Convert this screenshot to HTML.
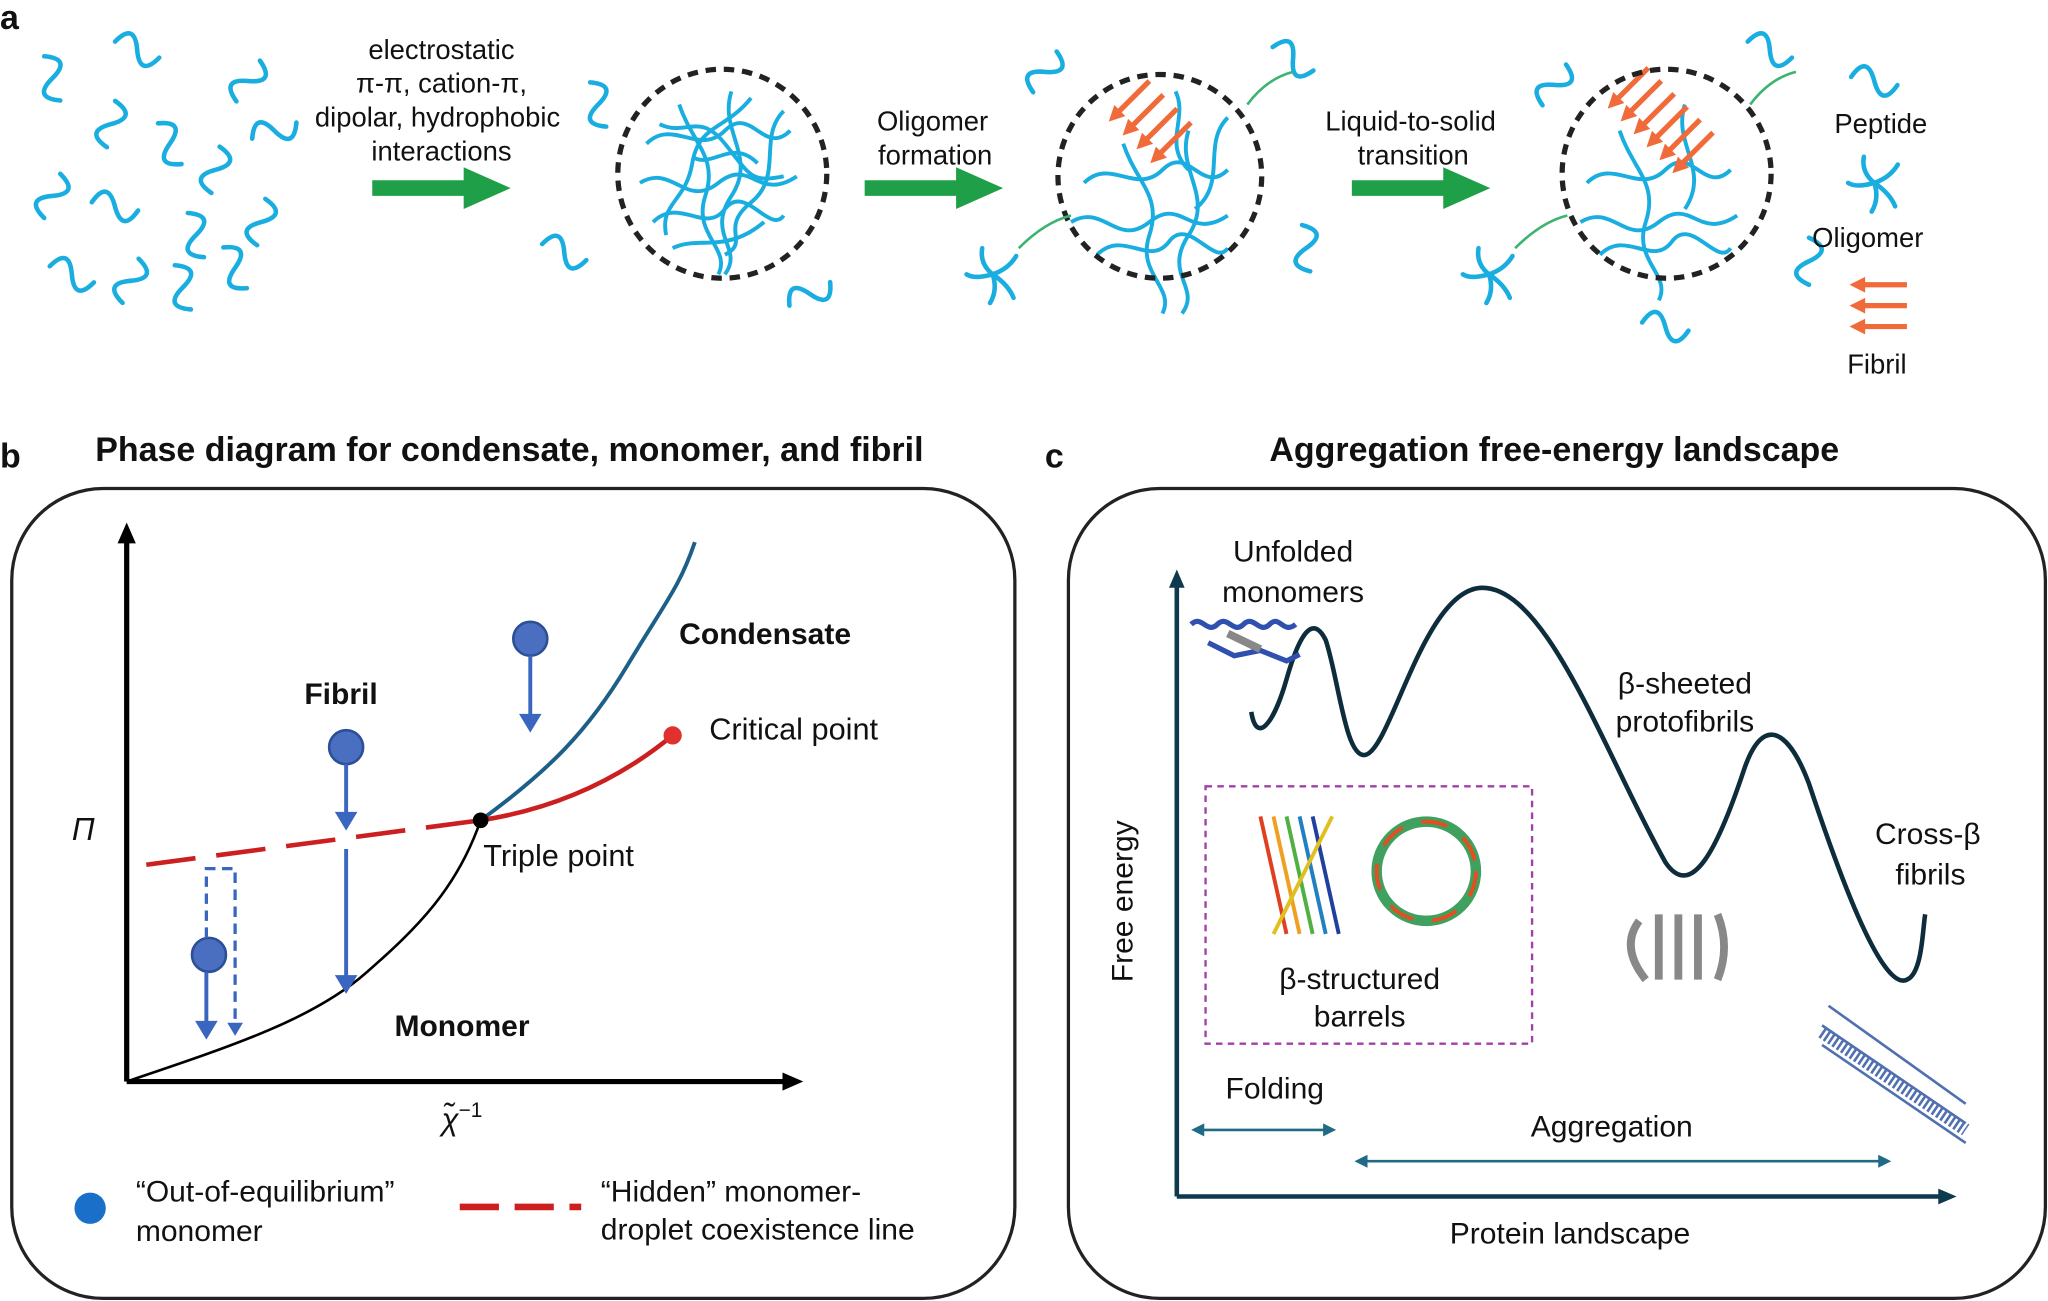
<!DOCTYPE html>
<html><head><meta charset="utf-8"><style>
html,body{margin:0;padding:0;background:#fff}
svg{display:block}
text{font-family:"Liberation Sans",sans-serif;fill:#111}
</style></head><body>
<svg width="2048" height="1301" viewBox="0 0 1568 996" preserveAspectRatio="none" xmlns="http://www.w3.org/2000/svg">
<defs>
<path id="sq" d="M-18 0 c6 -13 12 -13 18 0 s12 13 18 0" fill="none" stroke="#1aaee0" stroke-width="3.5" stroke-linecap="round"/>
<g id="olig" stroke="#1aaee0" stroke-width="3.5" fill="none" stroke-linecap="round">
<path d="M0 0 q-10 -8 -8 -20"/><path d="M0 0 q12 -4 18 -14"/><path d="M0 0 q-14 4 -20 0"/><path d="M0 0 q4 12 -2 22"/><path d="M0 0 q12 8 16 18"/></g>
<g id="oarr"><line x1="0" y1="0" x2="-34" y2="0" stroke="#f06a3a" stroke-width="4"/><path d="M-44 0 l12 -6 v12z" fill="#f06a3a"/></g>
<marker id="ah" markerUnits="userSpaceOnUse" markerWidth="16" markerHeight="16" refX="4" refY="8" orient="auto"><path d="M0 1 L16 8 L0 15z" fill="#000"/></marker>
</defs>
<text x="0" y="22" font-size="26" font-weight="bold">a</text>
<g>
<use href="#sq" transform="translate(40,60) rotate(70)"/><use href="#sq" transform="translate(105,38) rotate(20)"/><use href="#sq" transform="translate(190,62) rotate(-60)"/>
<use href="#sq" transform="translate(85,95) rotate(100)"/><use href="#sq" transform="translate(130,110) rotate(60)"/><use href="#sq" transform="translate(210,100) rotate(-20)"/>
<use href="#sq" transform="translate(165,130) rotate(100)"/><use href="#sq" transform="translate(40,150) rotate(-70)"/><use href="#sq" transform="translate(88,158) rotate(10)"/>
<use href="#sq" transform="translate(200,170) rotate(100)"/><use href="#sq" transform="translate(150,180) rotate(70)"/><use href="#sq" transform="translate(55,210) rotate(20)"/>
<use href="#sq" transform="translate(100,215) rotate(110)"/><use href="#sq" transform="translate(140,220) rotate(70)"/><use href="#sq" transform="translate(180,205) rotate(60)"/>
</g>
<g font-size="21" text-anchor="middle">
<text x="338" y="45">electrostatic</text>
<text x="338" y="71">π-π, cation-π,</text>
<text x="335" y="97">dipolar, hydrophobic</text>
<text x="338" y="123">interactions</text>
<text x="714" y="100">Oligomer</text>
<text x="716" y="126">formation</text>
<text x="1080" y="100">Liquid-to-solid</text>
<text x="1082" y="126">transition</text>
</g>
<path d="M285 138 h70 v-10 l36 16 l-36 16 v-10 h-70z" fill="#1fa048"/>
<path d="M662 138 h70 v-10 l36 16 l-36 16 v-10 h-70z" fill="#1fa048"/>
<path d="M1035 138 h70 v-10 l36 16 l-36 16 v-10 h-70z" fill="#1fa048"/>
<g stroke="#1aaee0" stroke-width="3" fill="none">
<path d="M495 110 c20 -20 40 10 60 -10 s30 20 50 0"/><path d="M490 140 c25 -15 35 20 60 0 s30 15 60 -5"/><path d="M500 170 c20 -20 40 10 55 -10 s35 20 45 5"/><path d="M520 80 c10 30 30 40 20 70 s20 40 10 60"/><path d="M560 70 c-10 30 20 50 0 80 s10 40 -5 60"/><path d="M600 85 c-20 20 0 50 -25 70 s0 30 -20 40"/><path d="M515 190 c20 -10 40 5 70 -20"/><path d="M530 120 c15 10 30 -15 50 5"/><path d="M505 95 c20 10 30 -10 50 15 s20 30 45 25"/><path d="M575 75 c-20 25 -40 20 -45 50 s-25 30 -20 55"/>
</g>
<circle cx="553" cy="133" r="80" fill="none" stroke="#222" stroke-width="4" stroke-dasharray="8,6"/>
<use href="#sq" transform="translate(432,193) rotate(20)"/><use href="#sq" transform="translate(458,80) rotate(70)"/><use href="#sq" transform="translate(620,225) rotate(-30)"/>
<g stroke="#1aaee0" stroke-width="3" fill="none">
<path d="M830 140 c20 -20 40 10 60 -10 s30 20 50 0"/><path d="M820 170 c25 -15 35 20 60 0 s30 15 60 -5"/><path d="M840 195 c20 -20 40 10 55 -10 s35 20 45 5"/><path d="M860 110 c10 30 30 40 20 70 s20 40 10 60"/><path d="M910 100 c-10 30 20 50 0 80 s10 40 -5 60"/><path d="M940 90 c-20 20 0 50 -25 70"/><path d="M900 70 c10 20 -10 40 10 60"/>
</g>
<g transform="translate(880,62) rotate(-45)"><use href="#oarr"/><use href="#oarr" y="15"/><use href="#oarr" y="30"/><use href="#oarr" y="45"/></g>
<circle cx="888" cy="135" r="78" fill="none" stroke="#222" stroke-width="4" stroke-dasharray="8,6"/>
<use href="#sq" transform="translate(800,55) rotate(-60)"/><use href="#sq" transform="translate(1000,190) rotate(80)"/><use href="#sq" transform="translate(990,45) rotate(30)"/>
<use href="#olig" transform="translate(760,210)"/>
<path d="M780 190 q20 -20 40 -25" stroke="#3cb371" stroke-width="2" fill="none"/><path d="M955 80 q15 -20 35 -25" stroke="#3cb371" stroke-width="2" fill="none"/>
<g stroke="#1aaee0" stroke-width="3" fill="none">
<path d="M1215 140 c20 -20 40 10 60 -10 s30 20 50 0"/><path d="M1210 170 c25 -15 35 20 60 0 s30 15 60 -5"/><path d="M1225 195 c20 -20 40 10 55 -10 s35 20 45 5"/><path d="M1240 100 c10 30 30 40 20 70 s20 40 10 60"/><path d="M1290 80 c-10 30 20 50 0 80"/>
</g>
<g transform="translate(1262,52) rotate(-45)"><use href="#oarr"/><use href="#oarr" y="14"/><use href="#oarr" y="28"/><use href="#oarr" y="42"/><use href="#oarr" y="56"/><use href="#oarr" y="70"/></g>
<circle cx="1276" cy="133" r="80" fill="none" stroke="#222" stroke-width="4" stroke-dasharray="8,6"/>
<use href="#sq" transform="translate(1190,65) rotate(-60)"/><use href="#sq" transform="translate(1355,38) rotate(20)"/><use href="#sq" transform="translate(1275,250) rotate(10)"/><use href="#sq" transform="translate(1385,200) rotate(90)"/>
<use href="#olig" transform="translate(1140,210)"/><path d="M1160 190 q20 -20 40 -25" stroke="#3cb371" stroke-width="2" fill="none"/><path d="M1340 80 q15 -20 35 -25" stroke="#3cb371" stroke-width="2" fill="none"/>
<use href="#sq" transform="translate(1435,62) rotate(10)"/>
<text x="1440" y="102" font-size="21" text-anchor="middle">Peptide</text>
<use href="#olig" transform="translate(1435,140)"/>
<text x="1430" y="189" font-size="21" text-anchor="middle">Oligomer</text>
<g transform="translate(1460,218)"><use href="#oarr"/><use href="#oarr" y="16"/><use href="#oarr" y="32"/></g>
<text x="1437" y="286" font-size="21" text-anchor="middle">Fibril</text>

<text x="0" y="358" font-size="26" font-weight="bold">b</text>
<text x="390" y="353" font-size="26" font-weight="bold" text-anchor="middle">Phase diagram for condensate, monomer, and fibril</text>
<rect x="9" y="374" width="768" height="620" rx="70" fill="none" stroke="#222" stroke-width="2.5"/>
<line x1="97" y1="828" x2="97" y2="412" stroke="#000" stroke-width="4" marker-end="url(#ah)"/>
<line x1="97" y1="828" x2="603" y2="828" stroke="#000" stroke-width="4" marker-end="url(#ah)"/>
<text x="55" y="643" font-size="24" font-style="italic" font-family="Liberation Serif">Π</text>
<text x="338" y="865" font-size="24" font-style="italic" font-family="Liberation Serif">χ̃<tspan font-size="16" dy="-10" font-style="normal">−1</tspan></text>
<path d="M97 828 C180 800 240 780 280 745 S350 680 368 628" stroke="#000" stroke-width="2" fill="none"/>
<path d="M368 628 C420 590 450 560 480 510 S520 450 532 415" stroke="#1c5f88" stroke-width="3" fill="none"/>
<path d="M368 628 C420 620 470 600 515 563" stroke="#cc2020" stroke-width="3.5" fill="none"/>
<path d="M112 662 L368 628" stroke="#cc2020" stroke-width="3.5" stroke-dasharray="38,16" fill="none"/>
<circle cx="515" cy="563" r="7" fill="#e03030"/><circle cx="368" cy="628" r="6" fill="#000"/>
<text x="233" y="539" font-size="23" font-weight="bold">Fibril</text>
<text x="520" y="493" font-size="23" font-weight="bold">Condensate</text>
<text x="543" y="566" font-size="23.5">Critical point</text>
<text x="370" y="663" font-size="23.5">Triple point</text>
<text x="302" y="793" font-size="23" font-weight="bold">Monomer</text>
<g fill="#4a6fc0" stroke="#2c4f96" stroke-width="2">
<circle cx="406" cy="489" r="13"/><circle cx="265" cy="572" r="13"/><circle cx="160" cy="731" r="13"/>
</g>
<g stroke="#3a66c0" stroke-width="3" fill="#3a66c0">
<line x1="406" y1="502" x2="406" y2="550"/><path d="M400 548 h12 l-6 10z"/>
<line x1="265" y1="585" x2="265" y2="625"/><path d="M259 623 h12 l-6 10z"/>
<line x1="265" y1="650" x2="265" y2="750"/><path d="M259 748 h12 l-6 10z"/>
<line x1="158" y1="744" x2="158" y2="785"/><path d="M152 783 h12 l-6 10z"/>
</g>
<g stroke="#3a66c0" stroke-width="2.5" fill="none" stroke-dasharray="8,5">
<path d="M158 718 V665 H180 V785"/></g>
<path d="M174 783 h12 l-6 10z" fill="#3a66c0"/>
<circle cx="69" cy="925" r="12" fill="#1a70c8"/>
<text x="104" y="920" font-size="23">“Out-of-equilibrium”</text>
<text x="104" y="950" font-size="23">monomer</text>
<line x1="352" y1="924" x2="445" y2="924" stroke="#cc2020" stroke-width="5" stroke-dasharray="30,12"/>
<text x="460" y="920" font-size="23">“Hidden” monomer-</text>
<text x="460" y="949" font-size="23">droplet coexistence line</text>

<text x="800" y="358" font-size="26" font-weight="bold">c</text>
<text x="1190" y="353" font-size="26" font-weight="bold" text-anchor="middle">Aggregation free-energy landscape</text>
<rect x="818" y="374" width="748" height="620" rx="70" fill="none" stroke="#222" stroke-width="2.5"/>
<line x1="901" y1="916" x2="901" y2="448" stroke="#0e3a4e" stroke-width="3.5"/><path d="M901 436 l-6 14 h12z" fill="#0e3a4e"/>
<line x1="901" y1="916" x2="1488" y2="916" stroke="#0e3a4e" stroke-width="3.5"/><path d="M1498 916 l-14 -6 v12z" fill="#0e3a4e"/>
<text transform="translate(867,690) rotate(-90)" font-size="23" text-anchor="middle">Free energy</text>
<text x="1202" y="952" font-size="23" text-anchor="middle">Protein landscape</text>
<path d="M958 545 C962 570 975 555 985 520 S1005 470 1015 490 C1025 520 1030 580 1045 578 C1065 575 1090 450 1135 450 C1185 450 1230 580 1275 660 C1295 690 1315 650 1335 590 C1350 545 1370 560 1385 600 C1405 660 1440 760 1460 750 C1472 745 1472 710 1474 700" stroke="#0e2d3c" stroke-width="3.5" fill="none"/>
<text x="990" y="430" font-size="23" text-anchor="middle">Unfolded</text>
<text x="990" y="461" font-size="23" text-anchor="middle">monomers</text>
<g stroke="#3050b0" stroke-width="4" fill="none"><path d="M912 478 c8 -8 12 8 20 0 s12 8 20 0 s12 8 20 0 s10 8 20 0"/><path d="M925 492 l20 10 l20 -4 l20 8 l10 -5"/><path d="M940 485 l25 12" stroke="#888" stroke-width="6"/></g>
<text x="1290" y="531" font-size="23" text-anchor="middle">β-sheeted</text>
<text x="1290" y="560" font-size="23" text-anchor="middle">protofibrils</text>
<text x="1476" y="646" font-size="23" text-anchor="middle">Cross-β</text>
<text x="1478" y="677" font-size="23" text-anchor="middle">fibrils</text>
<rect x="923" y="602" width="250" height="197" fill="none" stroke="#a040a8" stroke-width="1.8" stroke-dasharray="5,4"/>
<g stroke-width="3" fill="none">
<path d="M965 625 L985 715" stroke="#e04020"/><path d="M975 625 L995 715" stroke="#f0a020"/><path d="M985 625 L1005 715" stroke="#50b040"/><path d="M995 625 L1015 715" stroke="#2080c0"/><path d="M1005 625 L1025 715" stroke="#2040a0"/><path d="M1020 625 L975 715" stroke="#e0c020"/>
</g>
<circle cx="1092" cy="667" r="38" fill="none" stroke="#40a060" stroke-width="8"/><circle cx="1092" cy="667" r="38" fill="none" stroke="#e05020" stroke-width="3" stroke-dasharray="20,15"/>
<text x="1041" y="757" font-size="23" text-anchor="middle">β-structured</text>
<text x="1041" y="786" font-size="23" text-anchor="middle">barrels</text>
<g stroke="#888" stroke-width="6" fill="none"><path d="M1255 705 q-15 20 5 45"/><path d="M1270 700 v50"/><path d="M1285 700 v50"/><path d="M1300 700 v50"/><path d="M1315 700 q10 25 0 50"/></g>
<g stroke="#5070b0" stroke-width="2" fill="none"><path d="M1395 785 L1505 860"/><path d="M1395 800 L1505 875"/><path d="M1400 770 L1505 845"/><path d="M1395 790 L1505 865" stroke-dasharray="2,2" stroke-width="10"/></g>
<text x="976" y="841" font-size="23" text-anchor="middle">Folding</text>
<line x1="915" y1="865" x2="1020" y2="865" stroke="#1f6a86" stroke-width="2"/>
<path d="M912 865 l10 -5 v10z M1023 865 l-10 -5 v10z" fill="#1f6a86"/>
<text x="1234" y="870" font-size="23" text-anchor="middle">Aggregation</text>
<line x1="1040" y1="889" x2="1445" y2="889" stroke="#1f6a86" stroke-width="2"/>
<path d="M1037 889 l10 -5 v10z M1448 889 l-10 -5 v10z" fill="#1f6a86"/>
</svg>
</body></html>
